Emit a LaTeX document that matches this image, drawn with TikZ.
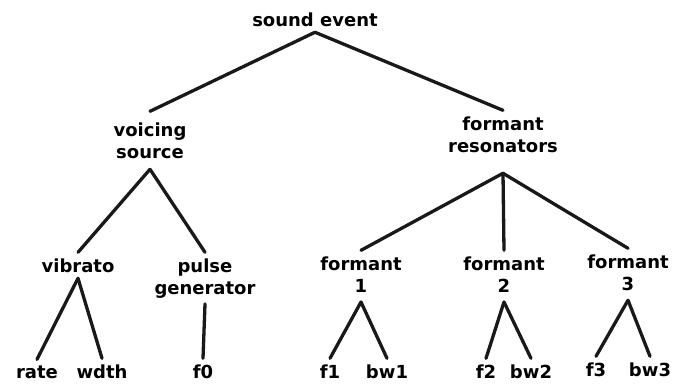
\documentclass[tikz,border=0pt]{standalone}
\usepackage{fontspec}
\setmainfont{DejaVu Sans}

\begin{document}
\begin{tikzpicture}[x=1pt, y=-1pt,
  lbl/.style={font=\fontsize{18}{22}\selectfont\bfseries, inner sep=0pt, outer xsep=0pt, outer ysep=6pt, anchor=base, align=center},
  branch/.style={line width=3.3pt, line cap=round, line join=round, black!90}]
\useasboundingbox (0,0) rectangle (677,383);

\node[lbl] (event) at (315, 26) {sound event};
\node[lbl, outer ysep=11pt] (voicing) at (150, 158) {voicing\\source};
\node[lbl] (resonators) at (503, 152) {formant\\resonators};

\node[lbl] (vibrato) at (78, 272) {vibrato};
\node[lbl] (pulse) at (205, 294) {pulse\\generator};
\node[lbl] (form1) at (361, 292) {formant\\1};
\node[lbl] (form2) at (504, 292) {formant\\2};
\node[lbl] (form3) at (628, 290) {formant\\3};

\node[lbl] (rate) at (37, 378) {rate};
\node[lbl] (wdth) at (102, 378) {wdth};
\node[lbl] (f0) at (203, 378) {f0};
\node[lbl] (f1) at (330, 378) {f1};
\node[lbl] (bw1) at (387, 378) {bw1};
\node[lbl] (f2) at (486, 378) {f2};
\node[lbl] (bw2) at (531, 378) {bw2};
\node[lbl] (f3) at (596, 376) {f3};
\node[lbl] (bw3) at (650, 376) {bw3};

\draw[branch] (event.south) -- (voicing.north);
\draw[branch] (event.south) -- (resonators.north);

\draw[branch] (voicing.south) -- (vibrato.north);
\draw[branch] (voicing.south) -- (pulse.north);
\draw[branch] ([yshift=-15pt]resonators.south) -- (form1.north);
\draw[branch] ([yshift=-15pt]resonators.south) -- (form2.north);
\draw[branch] ([yshift=-15pt]resonators.south) -- (form3.north);

\draw[branch] (vibrato.south) -- (rate.north);
\draw[branch] (vibrato.south) -- (wdth.north);
\draw[branch] (pulse.south) -- (f0.north);
\draw[branch] ([yshift=-4pt]form1.south) -- (f1.north);
\draw[branch] ([yshift=-4pt]form1.south) -- (bw1.north);
\draw[branch] ([yshift=-4pt]form2.south) -- (f2.north);
\draw[branch] ([yshift=-4pt]form2.south) -- (bw2.north);
\draw[branch] ([yshift=-4pt]form3.south) -- (f3.north);
\draw[branch] ([yshift=-4pt]form3.south) -- (bw3.north);
\end{tikzpicture}
\end{document}
